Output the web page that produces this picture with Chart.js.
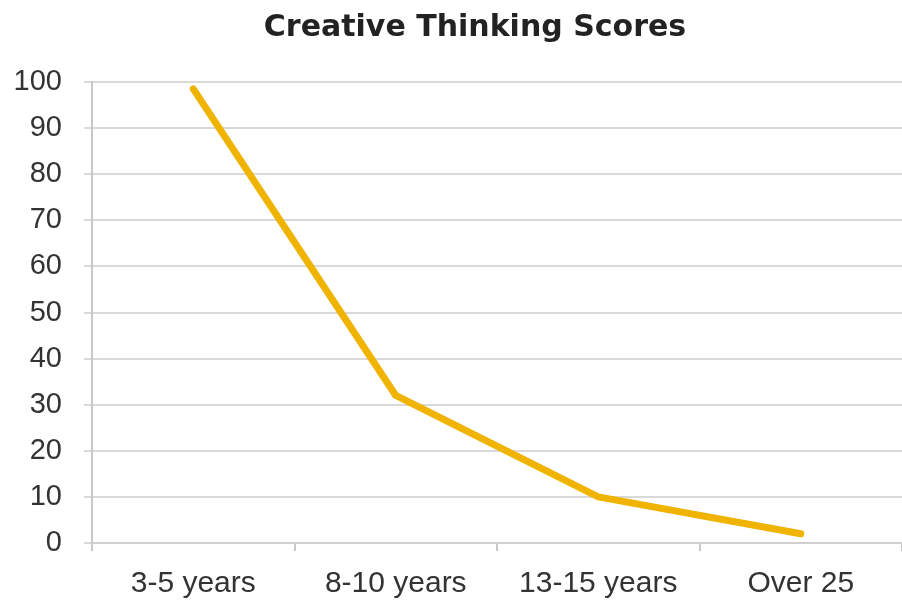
<!DOCTYPE html>
<html>
<head>
<meta charset="utf-8">
<script src="https://cdn.jsdelivr.net/npm/chart.js@4"></script>
<style>
  html, body { margin: 0; padding: 0; background: #fff; }
  #wrap { width: 902px; height: 603px; }
</style>
</head>
<body>
<div id="wrap"><canvas id="scoreChart" width="902" height="603"></canvas></div>
<script>
// categories and values
const ageGroups = ['3-5 years', '8-10 years', '13-15 years', 'Over 25'];
const creativeScores = [98.5, 32, 10, 2];
const yTicks = [0, 10, 20, 30, 40, 50, 60, 70, 80, 90, 100];

const ctx = document.getElementById('scoreChart').getContext('2d');

// the original title sits a bit right of the canvas centre
const shiftTitle = {
    id: 'shiftTitle',
    afterLayout(chart) {
        if (chart.titleBlock) chart.titleBlock.left += 48;
    }
};

new Chart(ctx, {
    type: 'line',
    data: {
        labels: ageGroups,
        datasets: [{
            label: 'Creative Thinking',
            data: creativeScores,
            borderColor: '#efb300',
            borderWidth: 7,
            borderCapStyle: 'round',
            borderJoinStyle: 'round',
            pointRadius: 0,
            tension: 0,
            fill: false
        }]
    },
    plugins: [shiftTitle],
    options: {
        responsive: false,
        animation: false,
        layout: { padding: { left: 0, right: 0, top: 8, bottom: 0 } },
        plugins: {
            legend: { display: false },
            tooltip: { enabled: false },
            title: {
                display: true,
                text: 'Creative Thinking Scores',
                color: '#222',
                font: { family: 'DejaVu Sans', size: 30, weight: 'bold' },
                padding: { top: 2, bottom: 36 }
            }
        },
        scales: {
            x: {
                offset: true,
                afterFit: (axis) => { axis.height = 60; },
                grid: { offset: true, drawOnChartArea: false, tickLength: 8, color: '#c8c8c8', lineWidth: 2 },
                border: { color: '#d0d0d0', width: 2 },
                ticks: {
                    color: '#333',
                    padding: 15,
                    font: { family: 'Liberation Sans', size: 30 }
                }
            },
            y: {
                min: 0,
                max: 100,
                afterBuildTicks: (axis) => { axis.ticks = yTicks.map(v => ({ value: v })); },
                afterFit: (axis) => { axis.width = 92; },
                grid: { color: '#d9d9d9', lineWidth: 2, tickLength: 8 },
                border: { color: '#c8c8c8', width: 2 },
                ticks: {
                    color: '#333',
                    padding: 22,
                    font: { family: 'Liberation Sans', size: 29 }
                }
            }
        }
    }
});
</script>
</body>
</html>
